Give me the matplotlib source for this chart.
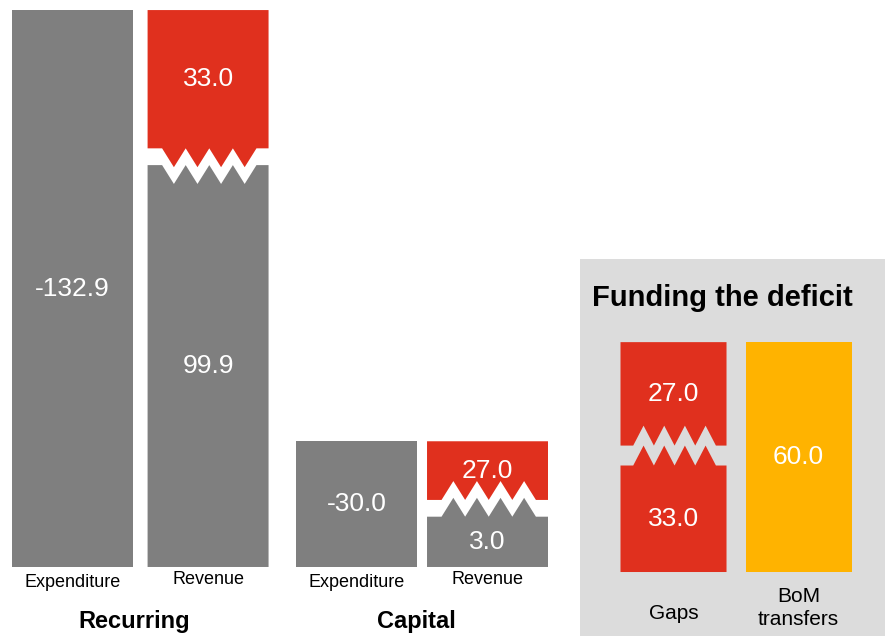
import matplotlib
matplotlib.use("Agg")
import matplotlib.pyplot as plt

plt.rcParams['font.family'] = ['Liberation Sans', 'DejaVu Sans']

# budget figures
groups = ['Recurring', 'Capital']
items = ['Expenditure', 'Revenue']
expenditure = [-132.9, -30.0]
revenue_raised = [99.9, 3.0]
revenue_gap = [33.0, 27.0]
funding_labels = ['Gaps', 'BoM\ntransfers']
bom_transfers = 60.0

GREY = '#7f7f7f'
RED = '#e0301e'
ORANGE = '#ffb300'
PANEL = '#dcdcdc'


def zigzag(xl, xr, y, amp, direction, n=4, lo=0.12, hi=0.9):
    # flat edge with n triangular teeth in the middle part of the bar
    w = xr - xl
    x0, x1 = xl + lo * w, xl + hi * w
    p = (x1 - x0) / n
    xs, ys = [xl, x0], [y, y]
    for k in range(n):
        xs += [x0 + (k + 0.5) * p, x0 + (k + 1) * p]
        ys += [y + direction * amp, y]
    xs.append(xr)
    ys.append(y)
    return xs, ys


def plain_bar(ax, x, value, color):
    h = abs(value)
    ax.bar(x, h, width=1, color=color, linewidth=0)
    ax.text(x, h / 2, f'{value:.1f}', color='white', fontsize=19,
            ha='center', va='center')


def broken_bar(ax, x, lower, upper, c_low, c_up, amp, gap, direction, floor=0.0):
    # two stacked pieces separated by a zigzag cut just below the join
    top = lower + upper
    b = max(lower, floor)
    xl, xr = x - 0.5, x + 0.5
    ex, ey = zigzag(xl, xr, b - gap, amp, direction)
    ax.fill([xl] + ex + [xr], [0] + ey + [0], color=c_low, lw=0)
    ex, ey = zigzag(xl, xr, b, amp, direction)
    ax.fill([xl] + ex + [xr], [top] + ey + [top], color=c_up, lw=0)
    ax.text(x, (b - gap) / 2, f'{lower:.1f}', color='white', fontsize=19,
            ha='center', va='center')
    ax.text(x, (b + top) / 2, f'{upper:.1f}', color='white', fontsize=19,
            ha='center', va='center')


fig = plt.figure(figsize=(8.85, 6.36), dpi=100)

# main chart: recurring and capital accounts
ax = fig.add_axes([0, 0, 548 / 885, 1])
ax.set_xlim(-0.6, 3.93)
ax.set_ylim(-16.47, 135.3)
ax.set_axis_off()

pos = [[0, 1.12], [2.35, 3.43]]
floors = [0.0, 16.0]
tooth_dir = [-1, 1]
for g in range(2):
    xe, xr = pos[g]
    plain_bar(ax, xe, expenditure[g], GREY)
    broken_bar(ax, xr, revenue_raised[g], revenue_gap[g], GREY, RED,
               amp=4.5, gap=4.0, direction=tooth_dir[g], floor=floors[g])
    ax.text(xe, -3.6, items[0], fontsize=13, ha='center', va='center')
    ax.text(xr, -3.1, items[1], fontsize=13, ha='center', va='center')
    ax.text((xe + xr) / 2 - 0.05, -13.1, groups[g], fontsize=17,
            fontweight='bold', ha='center', va='center')

# funding panel
ax2 = fig.add_axes([580 / 885, 0, 305 / 885, 377 / 636])
ax2.set_facecolor(PANEL)
for s in ax2.spines.values():
    s.set_visible(False)
ax2.set_xticks([])
ax2.set_yticks([])
ax2.set_xlim(-0.882, 1.995)
ax2.set_ylim(-16.7, 81.7)

broken_bar(ax2, 0, revenue_gap[0], revenue_gap[1], RED, RED,
           amp=5.2, gap=5.2, direction=1)
plain_bar(ax2, 1.18, bom_transfers, ORANGE)
ax2.text(0, -10.7, funding_labels[0], fontsize=15, ha='center', va='center')
ax2.text(1.18, -9.4, funding_labels[1], fontsize=15, ha='center', va='center',
         linespacing=1.25)
ax2.text(0.039, 0.897, 'Funding the deficit', transform=ax2.transAxes,
         fontsize=21, fontweight='bold', ha='left', va='center')

fig.savefig('out.png', dpi=100)
